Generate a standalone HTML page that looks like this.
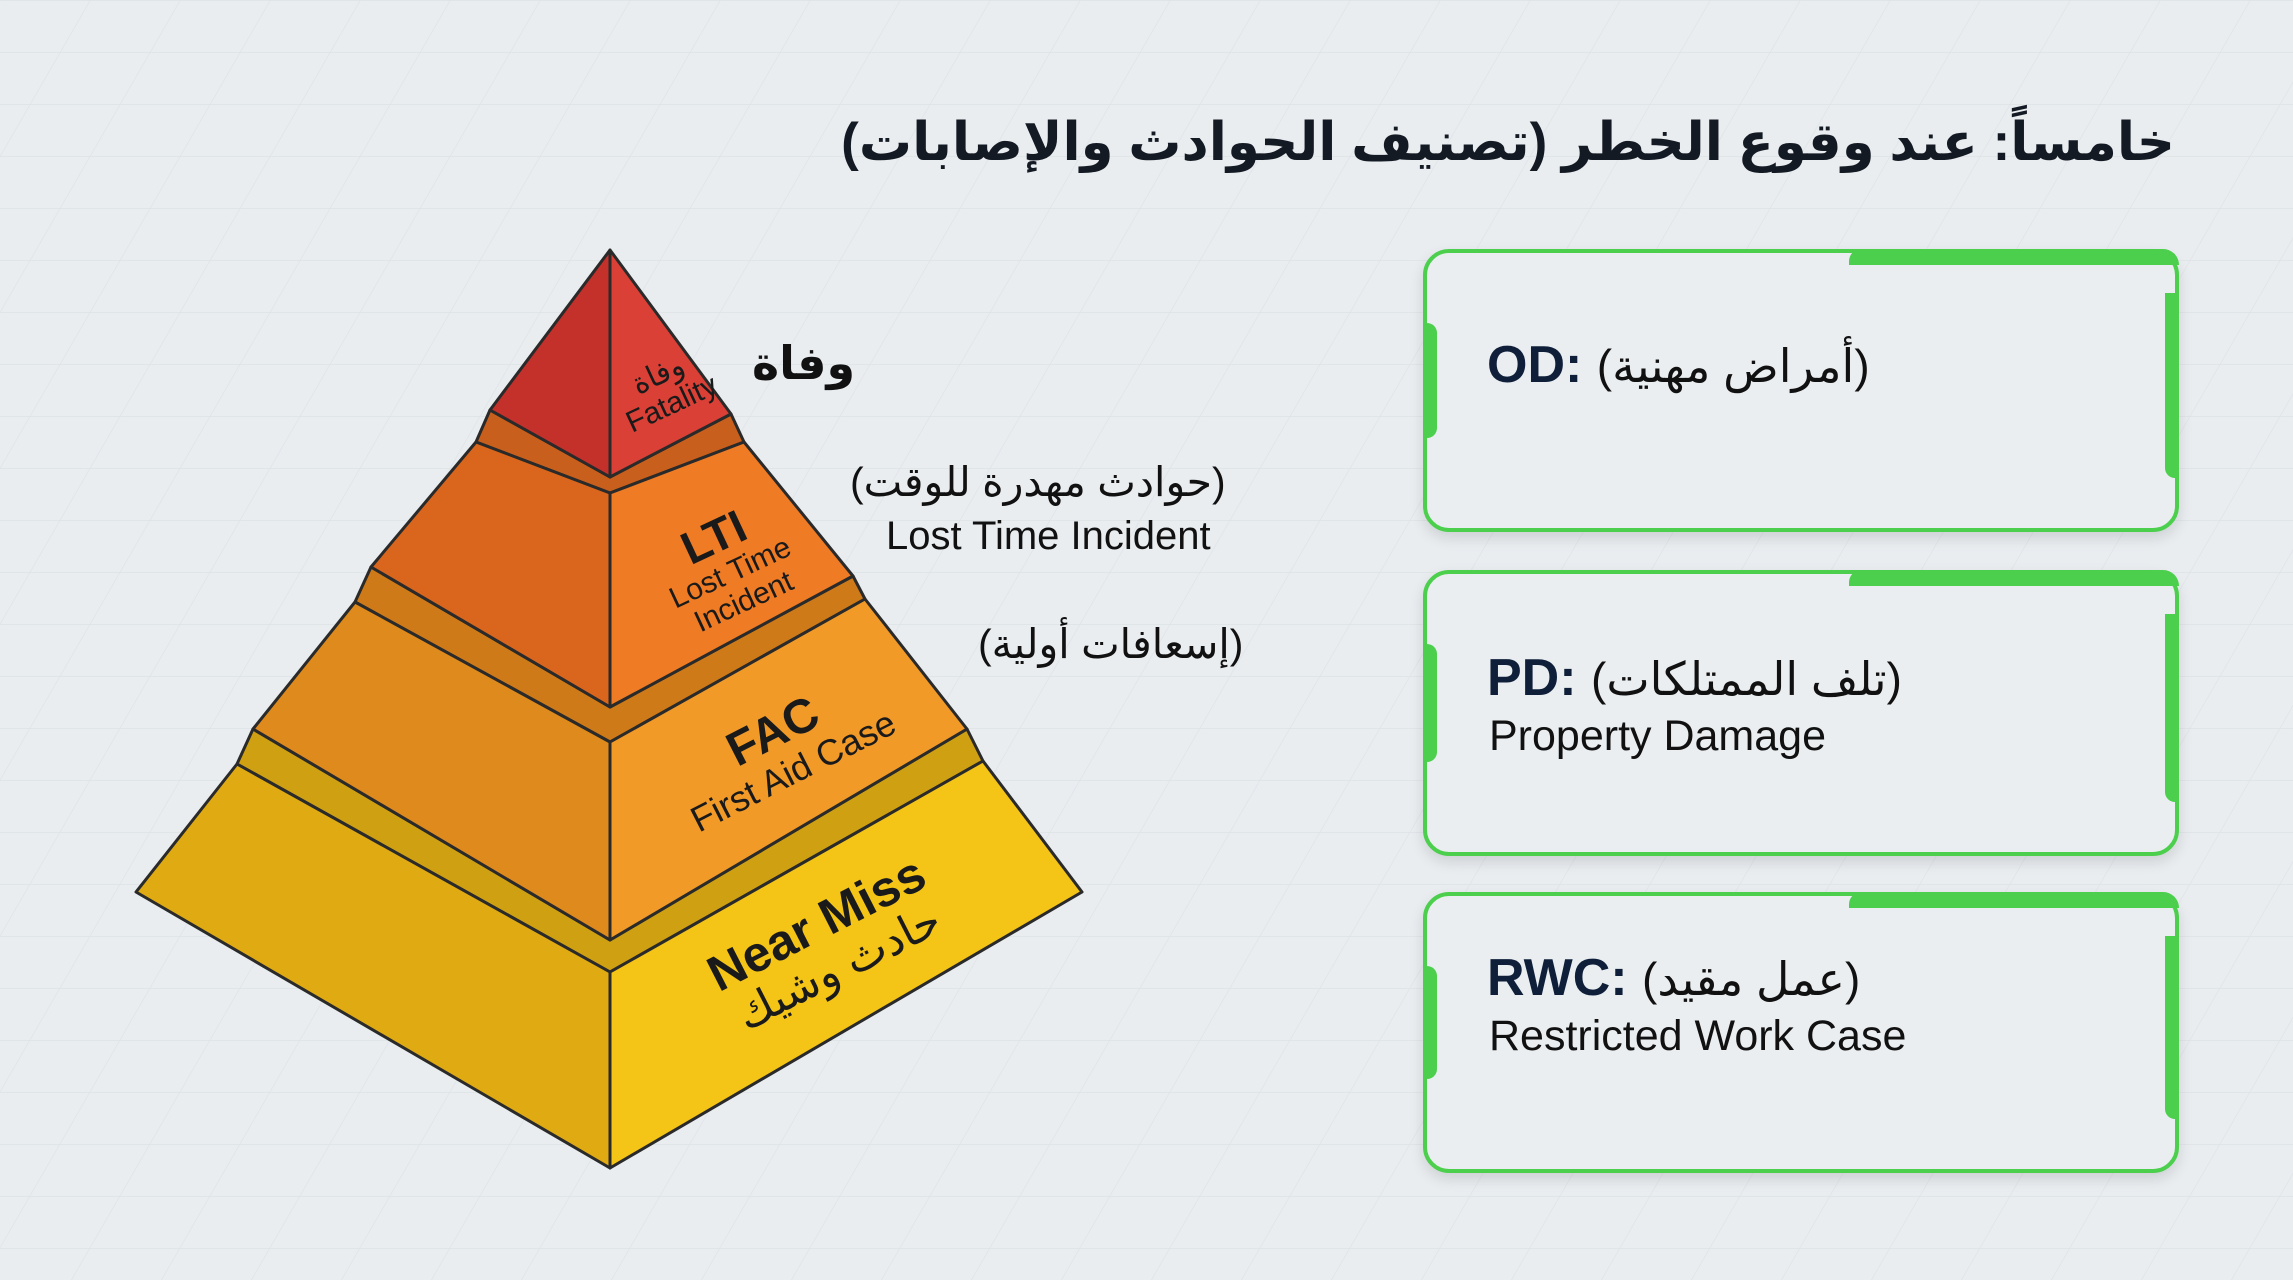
<!DOCTYPE html>
<html><head><meta charset="utf-8">
<style>
html,body{margin:0;padding:0}
body{width:2293px;height:1280px;position:relative;overflow:hidden;background:#e9edf0;font-family:"Liberation Sans","DejaVu Sans",sans-serif;color:#111}
.a{position:absolute;white-space:nowrap}
.rot{position:absolute;transform-origin:center;text-align:center;white-space:nowrap;color:#1a1a1a;line-height:1.05}
.card{position:absolute;left:1423px;width:756px;border:4px solid #4ccf4c;border-radius:26px;box-sizing:border-box;background:#eaeef1;box-shadow:0 6px 14px rgba(0,0,0,0.12)}
.card:before{content:"";position:absolute;right:-4px;top:-4px;width:330px;height:16px;background:#4ccf4c;border-top-right-radius:26px;border-top-left-radius:20px}
.card:after{content:"";position:absolute;right:-4px;top:40px;bottom:50px;width:14px;background:#4ccf4c;border-radius:0 4px 4px 10px}
.lbar{position:absolute;left:-4px;top:70px;bottom:90px;width:14px;background:#4ccf4c;border-radius:0 10px 10px 0}
.k{position:absolute;left:60px;font-weight:bold;font-size:52px;color:#0f1f3a}
.k span{font-weight:normal;color:#111;font-size:46px}
.s{position:absolute;left:62px;font-size:43px;color:#111}
</style></head><body>
<svg width="2293" height="1280" style="position:absolute;left:0;top:0">
<defs><pattern id="g" width="90" height="52" patternUnits="userSpaceOnUse" patternTransform="skewX(-30)">
<path d="M0 0H90M0 0V52" stroke="#dbe0e4" stroke-width="1.5" fill="none"/></pattern></defs>
<rect width="2293" height="1280" fill="url(#g)" opacity="0.8"/>
<g stroke="#2a2a2a" stroke-width="3" stroke-linejoin="round">
<!-- Near Miss -->
<polygon points="253,729 610,940 967,729 983,761 610,972 237,764" fill="#cfa012"/>
<polygon points="136,892 237,764 610,972 610,1168" fill="#e0ab12"/>
<polygon points="610,972 983,761 1082,892 610,1168" fill="#f4c417"/>
<!-- FAC -->
<polygon points="371,567 610,707 853,576 865,599 610,742 355,602" fill="#cf7a18"/>
<polygon points="253,729 355,602 610,742 610,940" fill="#df8a1c"/>
<polygon points="610,742 865,599 967,729 610,940" fill="#f19a28"/>
<!-- LTI -->
<polygon points="490,410 610,477 731,414 744,442 610,493 476,442" fill="#c95f1c"/>
<polygon points="371,567 476,442 610,493 610,707" fill="#d9661c"/>
<polygon points="610,493 744,442 853,576 610,707" fill="#ef7b24"/>
<!-- tip -->
<polygon points="610,250 490,410 610,477" fill="#c4302a"/>
<polygon points="610,250 731,414 610,477" fill="#da4036"/>
</g>
</svg>
<div class="rot" style="left:585px;top:358px;width:160px;font-size:30px;transform:rotate(-25deg)">وفاة<br>Fatality</div>
<div class="rot" style="left:627px;top:510px;width:200px;font-size:30px;transform:rotate(-25deg)"><b style="font-size:46px">LTI</b><br>Lost Time<br>Incident</div>
<div class="rot" style="left:652px;top:705px;width:260px;font-size:36px;transform:rotate(-27deg)"><b style="font-size:48px">FAC</b><br>First Aid Case</div>
<div class="rot" style="left:687px;top:895px;width:280px;font-size:44px;transform:rotate(-27deg)"><b style="font-size:50px">Near Miss</b><br>حادث وشيك</div>

<div class="a" style="left:752px;top:336px;font-size:46px;font-weight:bold" dir="rtl">وفاة</div>
<div class="a" style="left:850px;top:458px;font-size:41px" dir="rtl">(حوادث مهدرة للوقت)</div>
<div class="a" style="left:886px;top:514px;font-size:40px">Lost Time Incident</div>
<div class="a" style="left:978px;top:620px;font-size:41px" dir="rtl">(إسعافات أولية)</div>

<div class="a" style="right:118px;top:112px;font-size:53px;font-weight:bold;color:#141a24" dir="rtl">خامساً: عند وقوع الخطر (تصنيف الحوادث والإصابات)</div>

<div class="card" style="top:249px;height:283px"><div class="lbar"></div><div class="k" style="top:82px">OD: <span>(أمراض مهنية)</span></div></div>
<div class="card" style="top:570px;height:286px"><div class="lbar"></div><div class="k" style="top:74px">PD: <span>(تلف الممتلكات)</span></div><div class="s" style="top:138px">Property Damage</div></div>
<div class="card" style="top:892px;height:281px"><div class="lbar"></div><div class="k" style="top:52px">RWC: <span>(عمل مقيد)</span></div><div class="s" style="top:116px">Restricted Work Case</div></div>
</body></html>
